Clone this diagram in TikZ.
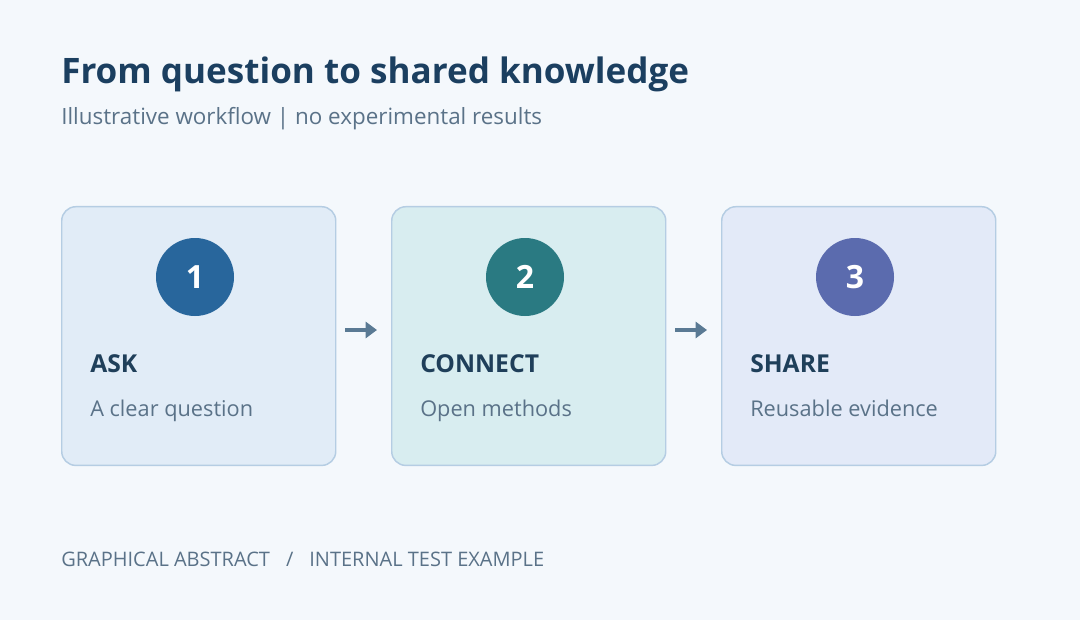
\documentclass[tikz,border=0pt]{standalone}
\usepackage{fontspec}
\setmainfont{Open Sans}
\usetikzlibrary{arrows.meta}
\definecolor{bg}{HTML}{F4F8FC}
\definecolor{titlec}{HTML}{1B3F60}
\definecolor{subc}{HTML}{5A7288}
\definecolor{headc}{HTML}{1F3F5A}
\definecolor{edge}{HTML}{B5CDE3}
\definecolor{fa}{HTML}{E1ECF7}
\definecolor{fb}{HTML}{D8EDF0}
\definecolor{fc}{HTML}{E3EAF8}
\definecolor{ca}{HTML}{28669C}
\definecolor{cb}{HTML}{2A7A82}
\definecolor{cc}{HTML}{5B6BAE}
\definecolor{arr}{HTML}{5A7A94}
\begin{document}
\begin{tikzpicture}[x=0.75pt,y=-0.75pt,
  card/.style={draw=edge,line width=1.1pt,rounded corners=10.5pt,minimum width=205.5pt,minimum height=194pt,anchor=north west,inner sep=0pt},
  num/.style={circle,minimum size=58.5pt,inner sep=0pt,text=white,font=\fontsize{24}{28}\selectfont\bfseries},
  head/.style={anchor=base west,text=headc,font=\fontsize{18.5}{22}\selectfont\bfseries,inner sep=0pt},
  body/.style={anchor=base west,text=subc,font=\fontsize{16.3}{19}\selectfont,inner sep=0pt},
  conn/.style={arr,line width=2.4pt,-{Triangle[length=8.5pt,width=12pt]}}]
\fill[bg] (0,0) rectangle (1080,620);
\useasboundingbox (0,0) rectangle (1080,620);
\node[anchor=base west,text=titlec,font=\fontsize{26.3}{30}\selectfont\bfseries,inner sep=0pt] (title) at (61,84) {From question to shared knowledge};
\node[anchor=base west,text=subc,font=\fontsize{16.8}{20}\selectfont,inner sep=0pt] (sub) at (61,125) {Illustrative workflow | no experimental results};
\node[card,fill=fa] (b1) at (61,206) {};
\node[card,fill=fb] (b2) at (391,206) {};
\node[card,fill=fc] (b3) at (721,206) {};
\node[num,fill=ca] (n1) at (195,277) {1};
\node[num,fill=cb] (n2) at (525,277) {2};
\node[num,fill=cc] (n3) at (855,277) {3};
\node[head] (h1) at (90,372) {ASK};
\node[head] (h2) at (420,372) {CONNECT};
\node[head] (h3) at (750,372) {SHARE};
\node[body] (t1) at (90,416) {A clear question};
\node[body] (t2) at (420,416) {Open methods};
\node[body] (t3) at (750,416) {Reusable evidence};
\coordinate (a1s) at (345,330); \coordinate (a1e) at (377,330);
\coordinate (a2s) at (675,330); \coordinate (a2e) at (707,330);
\draw[conn] (a1s) -- (a1e);
\draw[conn] (a2s) -- (a2e);
\node[anchor=base west,text=subc,font=\fontsize{15}{18}\selectfont,inner sep=0pt] (foot) at (61,566) {GRAPHICAL ABSTRACT\hspace{0.8em}/\hspace{0.8em}INTERNAL TEST EXAMPLE};
\end{tikzpicture}
\end{document}
